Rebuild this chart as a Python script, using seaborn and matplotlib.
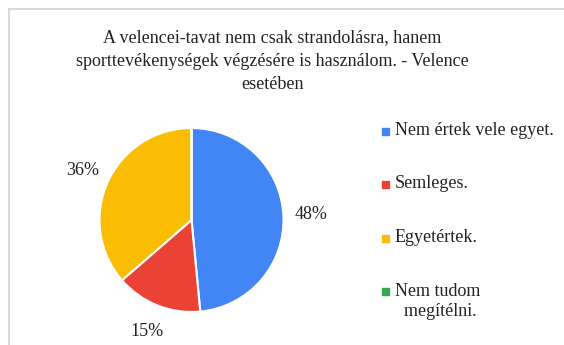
import matplotlib
matplotlib.use("Agg")
import matplotlib.pyplot as plt
from matplotlib.lines import Line2D
from matplotlib.patches import Rectangle
import seaborn as sns

sns.set_theme(style="white")
plt.rcParams["font.family"] = ["Liberation Serif", "DejaVu Serif"]

title = ("A velencei-tavat nem csak strandolásra, hanem\n"
         "sporttevékenységek végzésére is használom. - Velence\n"
         "esetében")
categories = ["Nem értek vele egyet.", "Semleges.", "Egyetértek.", "Nem tudom\n  megítélni."]
counts = [16, 5, 12, 0]
colors = ["#4285F4", "#EA4335", "#FBBC04", "#34A853"]

W, H = 564, 345
fig = plt.figure(figsize=(W / 100, H / 100), dpi=100)
fig.patch.set_facecolor("white")

# chart frame (top and left edges)
frame_kw = dict(color="#d9d9d9", lw=1.5, transform=fig.transFigure)
fig.add_artist(Line2D([9 / W, 1], [1 - 9 / H, 1 - 9 / H], **frame_kw))
fig.add_artist(Line2D([9 / W, 9 / W], [0, 1 - 9 / H], **frame_kw))

fig.text(272 / W, 1 - 61 / H, title, ha="center", va="center",
         fontsize=13, color="#222222", linespacing=1.5)

# pie
cx, cy, r = 191.5, 220, 92
ax = fig.add_axes([(cx - r) / W, (H - cy - r) / H, 2 * r / W, 2 * r / H])
wedges, texts, pcts = ax.pie(counts, colors=colors, startangle=90, counterclock=False,
                             autopct=lambda p: f"{p:.0f}%" if p > 0 else "",
                             pctdistance=1.3,
                             wedgeprops=dict(edgecolor="white", linewidth=1.5),
                             textprops=dict(fontsize=13, color="#222222"))
ax.set_xlim(-1, 1)
ax.set_ylim(-1, 1)
ax.set_aspect("equal")
ax.axis("off")

# legend
y0, dy = 131, 53.5
for i, (lab, col) in enumerate(zip(categories, colors)):
    y = y0 + i * dy
    fig.add_artist(Rectangle((382 / W, 1 - (y + 3.5) / H), 7 / W, 7 / H,
                             color=col, transform=fig.transFigure))
    fig.text(395 / W, 1 - (y - 9) / H, lab, ha="left", va="top",
             fontsize=13, color="#222222", linespacing=1.25)

fig.savefig("out.png", dpi=100, facecolor="white")
